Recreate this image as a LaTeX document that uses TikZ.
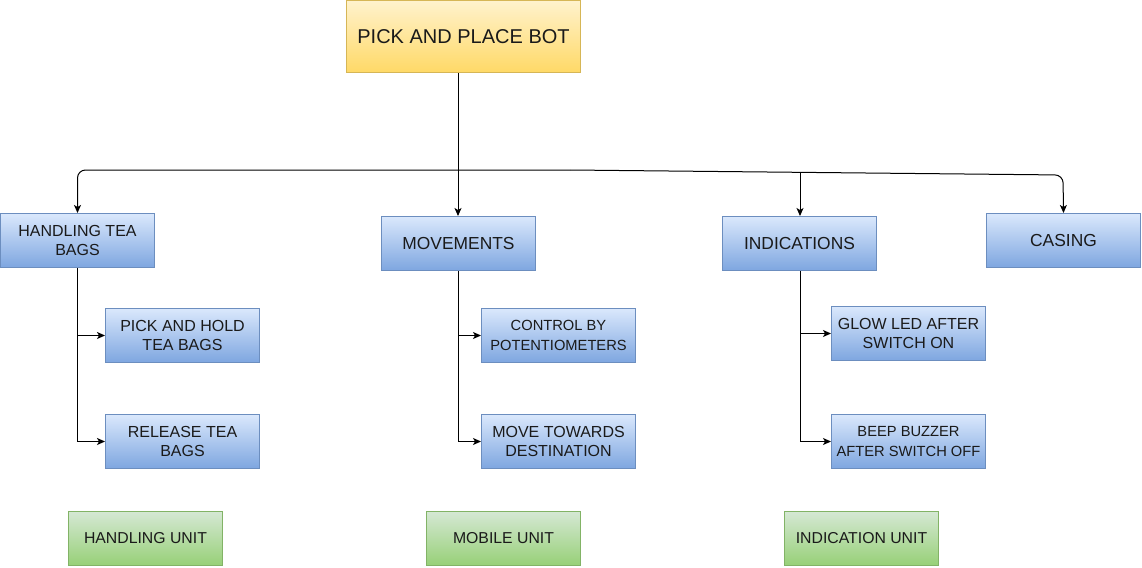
\documentclass[tikz,border=0pt]{standalone}
\usepackage{fontspec}
\setmainfont{Liberation Sans}
\usetikzlibrary{arrows.meta}
\definecolor{txt}{HTML}{1A1A1A}
\definecolor{blueT}{HTML}{DAE8FC}
\definecolor{blueB}{HTML}{7EA6E0}
\definecolor{blueD}{HTML}{6C8EBF}
\definecolor{greenT}{HTML}{D5E8D4}
\definecolor{greenB}{HTML}{97D077}
\definecolor{greenD}{HTML}{82B366}
\definecolor{yelT}{HTML}{FFF2CC}
\definecolor{yelB}{HTML}{FFD966}
\definecolor{yelD}{HTML}{D6B656}
\tikzset{
  box/.style={draw, line width=1pt, inner sep=0pt, minimum width=154pt, minimum height=54pt, align=center, text=txt, font=\fontsize{16}{19.5}\selectfont},
  bluebox/.style={box, draw=blueD, top color=blueT, bottom color=blueB},
  bigblue/.style={bluebox, font=\fontsize{17.4}{20}\selectfont},
  smallblue/.style={bluebox, font=\fontsize{14.7}{19.5}\selectfont},
  greenbox/.style={box, draw=greenD, top color=greenT, bottom color=greenB, font=\fontsize{15.8}{19}\selectfont},
  yelbox/.style={box, draw=yelD, top color=yelT, bottom color=yelB, minimum width=234pt, minimum height=72pt, font=\fontsize{20}{23}\selectfont},
  arr/.style={draw=black, line width=1pt, -{Stealth[length=8pt,width=7pt,inset=2pt]}}
}
\begin{document}
\begin{tikzpicture}[x=1pt,y=-1pt]
\useasboundingbox (0,0) rectangle (1142,567);
\node[yelbox] (top) at (463.5,37) {PICK AND PLACE BOT};
\node[bluebox] (hand) at (77.5,240.5) {HANDLING TEA\\BAGS};
\node[bigblue] (mov) at (458.5,243.5) {MOVEMENTS};
\node[bigblue] (ind) at (799.5,243.5) {INDICATIONS};
\node[bigblue] (cas) at (1063.5,240.5) {CASING};
\node[bluebox] (pick) at (182.5,335.5) {PICK AND HOLD\\TEA BAGS};
\node[bluebox] (rel) at (182.5,441.5) {RELEASE TEA\\BAGS};
\node[smallblue] (ctl) at (558.5,335.5) {CONTROL BY\\POTENTIOMETERS};
\node[bluebox] (mvt) at (558.5,441.5) {MOVE TOWARDS\\DESTINATION};
\node[bluebox] (glow) at (908.5,333.5) {GLOW LED AFTER\\SWITCH ON};
\node[smallblue] (beep) at (908.5,441.5) {BEEP BUZZER\\AFTER SWITCH OFF};
\node[greenbox] (hu) at (145.5,538.5) {HANDLING UNIT};
\node[greenbox] (mu) at (503.5,538.5) {MOBILE UNIT};
\node[greenbox] (iu) at (861.5,538.5) {INDICATION UNIT};
% main connectors
\coordinate (jm) at (458,170);
\coordinate (js) at (570,170);
\coordinate (jr) at (1063,175);
\coordinate (ji) at (800,172.4);
\draw[arr] (top.south -| jm) -- (mov.north -| jm);
\draw[arr, rounded corners=8pt] (js) -- (jm) -| (hand.north);
\draw[arr, rounded corners=8pt] (js) -- (jr) -- (cas.north);
\draw[arr] (ji) -- (ind.north -| ji);
% sub connectors
\draw[arr] (hand.south) |- (rel.west);
\draw[arr] (hand.south |- pick.west) -- (pick.west);
\draw[arr] (mov.south) |- (mvt.west);
\draw[arr] (mov.south |- ctl.west) -- (ctl.west);
\draw[arr] (ind.south -| ji) |- (beep.west);
\draw[arr] (ji |- glow.west) -- (glow.west);
\end{tikzpicture}
\end{document}
